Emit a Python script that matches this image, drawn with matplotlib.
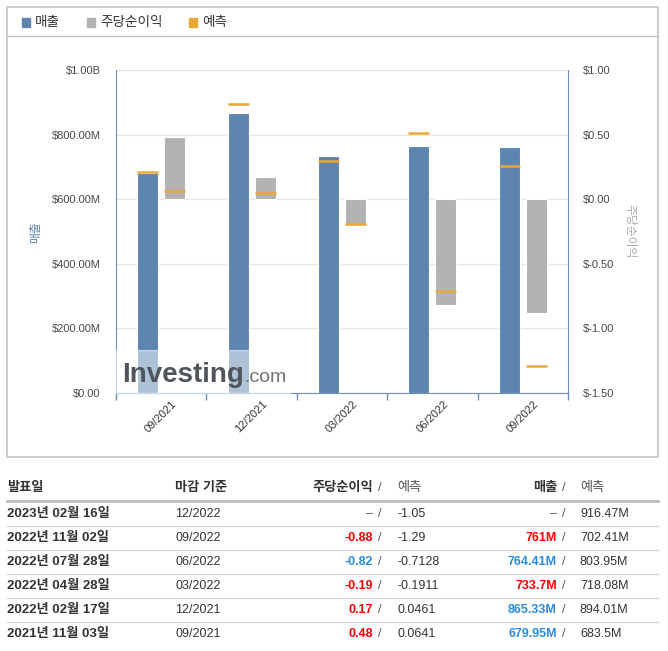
import numpy as np
import matplotlib
matplotlib.use('Agg')
import matplotlib.pyplot as plt
from matplotlib.patches import Rectangle
from matplotlib.lines import Line2D

plt.rcParams['font.family'] = ['Liberation Sans', 'Noto Sans CJK KR', 'DejaVu Sans']

# chart data
periods = ['09/2021', '12/2021', '03/2022', '06/2022', '09/2022']
revenue = [679.95e6, 865.33e6, 733.7e6, 764.41e6, 761e6]
revenue_fc = [683.5e6, 894.01e6, 718.08e6, 803.95e6, 702.41e6]
eps = [0.48, 0.17, -0.19, -0.82, -0.88]
eps_fc = [0.0641, 0.0461, -0.1911, -0.7128, -1.29]

rev_ticks = [0, 200e6, 400e6, 600e6, 800e6, 1000e6]
rev_tick_labels = ['$0.00', '$200.00M', '$400.00M', '$600.00M', '$800.00M', '$1.00B']
eps_ticks = [-1.5, -1.0, -0.5, 0.0, 0.5, 1.0]
eps_tick_labels = ['$-1.50', '$-1.00', '$-0.50', '$0.00', '$0.50', '$1.00']

# table data
tbl_dates = ['2023년 02월 16일', '2022년 11월 02일', '2022년 07월 28일',
             '2022년 04월 28일', '2022년 02월 17일', '2021년 11월 03일']
tbl_period = ['12/2022', '09/2022', '06/2022', '03/2022', '12/2021', '09/2021']
tbl_eps = ['--', '-0.88', '-0.82', '-0.19', '0.17', '0.48']
tbl_eps_fc = ['-1.05', '-1.29', '-0.7128', '-0.1911', '0.0461', '0.0641']
tbl_rev = ['--', '761M', '764.41M', '733.7M', '865.33M', '679.95M']
tbl_rev_fc = ['916.47M', '702.41M', '803.95M', '718.08M', '894.01M', '683.5M']
tbl_eps_col = ['none', 'red', 'blue', 'red', 'red', 'red']
tbl_rev_col = ['none', 'red', 'blue', 'red', 'blue', 'blue']

BLUE = '#5d85b0'
AXIS_BLUE = '#6a8fbd'
GRAY = '#b2b2b2'
ORANGE = '#e8a838'
RED = '#ff0000'
LINKBLUE = '#2b8ce4'
TXT = '#333333'
colmap = {'none': TXT, 'red': RED, 'blue': LINKBLUE}

W, H = 668, 651


def fx(px):
    return px / W


def fy(py):
    return 1 - py / H


fig = plt.figure(figsize=(W / 100, H / 100), dpi=100)

# outer frame + legend row
fig.patches.append(Rectangle((fx(7), fy(457)), fx(658) - fx(7), fy(7) - fy(457),
                             transform=fig.transFigure, fill=False,
                             edgecolor='#c4c4c4', linewidth=1.2))
fig.add_artist(Line2D([fx(7), fx(658)], [fy(36), fy(36)], transform=fig.transFigure,
                      color='#c4c4c4', linewidth=1.0))

legend_items = [('매출', BLUE, 22), ('주당순이익', GRAY, 87), ('예측', ORANGE, 189)]
for name, c, lx in legend_items:
    fig.patches.append(Rectangle((fx(lx), fy(26.5)), 8 / W, 8 / H,
                                 transform=fig.transFigure, color=c))
    fig.text(fx(lx + 13), fy(22), name, fontsize=9.8, color='#333333', va='center')

# main chart
ax = fig.add_axes([fx(116), fy(393), (568 - 116) / W, (393 - 70) / H])
ax2 = ax.twinx()

x = np.arange(len(periods))
off = 0.149
bw = 0.232

ax.bar(x - off, revenue, bw, color=BLUE, edgecolor='white', linewidth=0.8, zorder=2)
ax.hlines(revenue_fc, x - off - bw / 2, x - off + bw / 2, color=ORANGE, lw=1.8, zorder=3)
ax2.bar(x + off, eps, bw, color=GRAY, edgecolor='white', linewidth=0.8, zorder=2)
ax2.hlines(eps_fc, x + off - bw / 2, x + off + bw / 2, color=ORANGE, lw=1.8, zorder=3)

ax.set_xlim(-0.5, len(periods) - 0.5)
ax.set_ylim(0, 1e9)
ax2.set_ylim(-1.5, 1.0)

ax.set_yticks(rev_ticks)
ax.set_yticklabels(rev_tick_labels)
ax2.set_yticks(eps_ticks)
ax2.set_yticklabels(eps_tick_labels)
ax.tick_params(axis='y', length=0, pad=11, labelsize=8, labelcolor='#484848')
ax2.tick_params(axis='y', length=0, pad=11, labelsize=8, labelcolor='#484848')

ax.set_xticks(x)
ax.set_xticklabels(periods, rotation=45, ha='center')
ax.set_xticks(np.arange(-0.5, len(periods), 1.0), minor=True)
ax.tick_params(axis='x', which='major', length=0, pad=4, labelsize=8, labelcolor='#333333')
ax.tick_params(axis='x', which='minor', length=5, width=1, color=AXIS_BLUE)

ax.grid(axis='y', color='#e6e6e6', linewidth=1)
ax.set_axisbelow(True)

for s in ['top', 'right']:
    ax.spines[s].set_visible(False)
for s in ['top', 'left', 'bottom']:
    ax2.spines[s].set_visible(False)
ax.spines['left'].set_color(AXIS_BLUE)
ax.spines['bottom'].set_color(AXIS_BLUE)
ax2.spines['right'].set_color(AXIS_BLUE)

fig.text(fx(36.5), fy(232), '매출', rotation=90, fontsize=8.5, color=BLUE,
         ha='center', va='center')
fig.text(fx(629), fy(231), '주당순이익', rotation=270, fontsize=8.5, color='#aaaaaa',
         ha='center', va='center')

# watermark
fig.patches.append(Rectangle((fx(116), fy(393)), (290 - 116) / W, (393 - 350) / H,
                             transform=fig.transFigure, color='white', alpha=0.5,
                             zorder=2))
fig.text(fx(122), fy(382), 'Investing', fontsize=20, fontweight='bold', color='#50555b',
         va='baseline', zorder=4)
fig.text(fx(244), fy(382), '.com', fontsize=14, color='#6f7378', va='baseline', zorder=4)

# table
hy = 488
fig.text(fx(7), fy(hy), '발표일', fontsize=9.5, fontweight='bold', color=TXT, va='center')
fig.text(fx(175), fy(hy), '마감 기준', fontsize=9.5, fontweight='bold', color=TXT, va='center')
fig.text(fx(373), fy(hy), '주당순이익', fontsize=9.5, fontweight='bold', color=TXT,
         va='center', ha='right')
fig.text(fx(378), fy(hy), '/', fontsize=9.5, color='#555555', va='center')
fig.text(fx(397), fy(hy), '예측', fontsize=9.5, color='#555555', va='center')
fig.text(fx(557), fy(hy), '매출', fontsize=9.5, fontweight='bold', color=TXT,
         va='center', ha='right')
fig.text(fx(562), fy(hy), '/', fontsize=9.5, color='#555555', va='center')
fig.text(fx(580), fy(hy), '예측', fontsize=9.5, color='#555555', va='center')
fig.add_artist(Line2D([fx(7), fx(658)], [fy(501), fy(501)], transform=fig.transFigure,
                      color='#bbbbbb', linewidth=2.0))

for i in range(len(tbl_dates)):
    ry = 514 + 24 * i
    fig.text(fx(7), fy(ry), tbl_dates[i], fontsize=9.5, fontweight='bold', color=TXT,
             va='center')
    fig.text(fx(175), fy(ry), tbl_period[i], fontsize=9, color=TXT, va='center')
    ew = 'normal' if tbl_eps_col[i] == 'none' else 'bold'
    fig.text(fx(373), fy(ry), tbl_eps[i], fontsize=9, fontweight=ew,
             color=colmap[tbl_eps_col[i]], va='center', ha='right')
    fig.text(fx(378), fy(ry), '/', fontsize=9, color='#555555', va='center')
    fig.text(fx(397), fy(ry), tbl_eps_fc[i], fontsize=9, color=TXT, va='center')
    rw = 'normal' if tbl_rev_col[i] == 'none' else 'bold'
    fig.text(fx(557), fy(ry), tbl_rev[i], fontsize=9, fontweight=rw,
             color=colmap[tbl_rev_col[i]], va='center', ha='right')
    fig.text(fx(562), fy(ry), '/', fontsize=9, color='#555555', va='center')
    fig.text(fx(580), fy(ry), tbl_rev_fc[i], fontsize=9, color=TXT, va='center')
    if i < len(tbl_dates) - 1:
        sy = ry + 12
        fig.add_artist(Line2D([fx(7), fx(658)], [fy(sy), fy(sy)], transform=fig.transFigure,
                              color='#d9d9d9', linewidth=1.0))

fig.savefig('out.png', dpi=100)
